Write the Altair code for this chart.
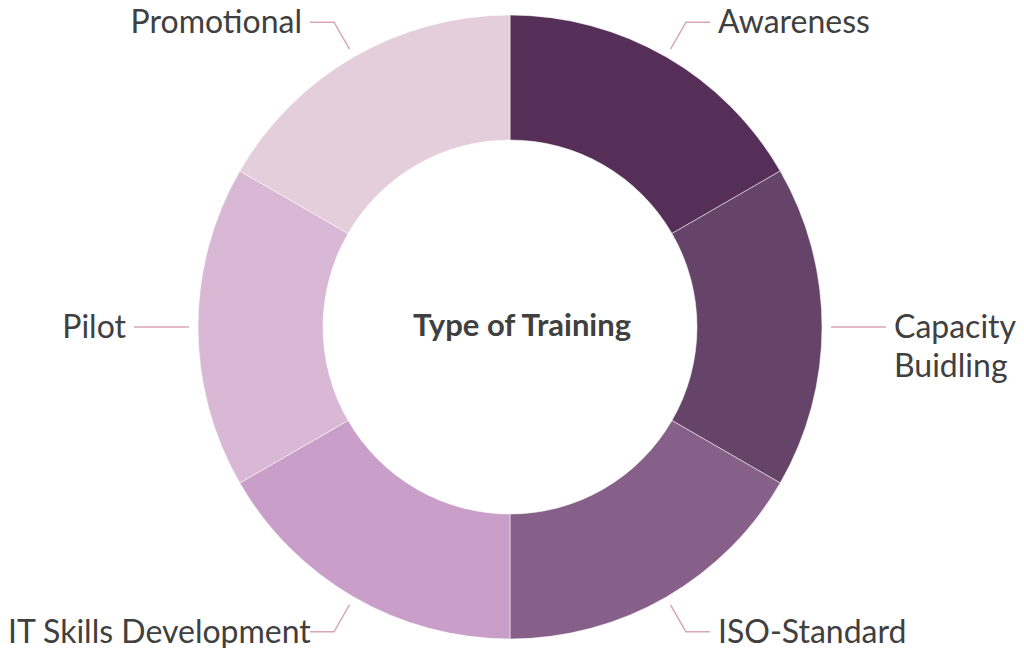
import math
import altair as alt
import pandas as pd

categories = ["Awareness", "Capacity\nBuidling", "ISO-Standard", "IT Skills Development", "Pilot", "Promotional"]
values = [1, 1, 1, 1, 1, 1]
colors = ["#552F58", "#664469", "#866089", "#C99FC9", "#D8B8D5", "#E5CEDC"]
center_title = "Type of Training"

W, H = 1008, 634
FS = 32
R_OUT, R_IN = 312, 187
R1, R2, HORIZ, GAP = 321, 352, 24, 8
X_MIN, X_MAX, Y_MIN, Y_MAX = -502, 506, -315, 319

total = sum(values)
slices = pd.DataFrame({"cat": categories, "val": values, "idx": list(range(len(categories))),
                       "cx": [0.0] * len(categories), "cy": [0.0] * len(categories)})

# leader line points and label anchors derived from the values
cum = 0.0
line_rows, label_rows = [], []
for i, (c, v) in enumerate(zip(categories, values)):
    mid = (cum + v / 2) / total * 2 * math.pi
    cum += v
    s, co = math.sin(mid), math.cos(mid)
    side = 1 if s >= 0 else -1
    p0 = (R1 * s, R1 * co)
    p1 = (R2 * s, R2 * co)
    p2 = (R2 * s + side * HORIZ, R2 * co)
    for k, (px, py) in enumerate([p0, p1, p2]):
        line_rows.append({"cat": c, "k": k, "x": px, "y": py})
    lx = p2[0] + side * GAP
    align = "left" if side > 0 else "right"
    est_w = 0.45 * FS * max(len(t) for t in c.split("\n"))
    if side < 0 and lx - est_w < X_MIN:
        lx, align = X_MIN, "left"  # keep long label inside the canvas
    label_rows.append({"cat": c, "x": lx, "y": p2[1], "side": align})
lines = pd.DataFrame(line_rows)
labels = pd.DataFrame(label_rows)

xs = alt.Scale(domain=[X_MIN, X_MAX], nice=False, zero=False)
ys = alt.Scale(domain=[Y_MIN, Y_MAX], nice=False, zero=False)

arcs = alt.Chart(slices).mark_arc(outerRadius=R_OUT, innerRadius=R_IN, stroke="white", strokeWidth=0.5).encode(
    x=alt.X("cx:Q", scale=xs, axis=None),
    y=alt.Y("cy:Q", scale=ys, axis=None),
    theta=alt.Theta("val:Q", stack=True),
    order=alt.Order("idx:Q"),
    color=alt.Color("cat:N", scale=alt.Scale(domain=categories, range=colors), legend=None),
)

leaders = alt.Chart(lines).mark_line(color="#D8A7B5", strokeWidth=1.5).encode(
    x=alt.X("x:Q", scale=xs, axis=None),
    y=alt.Y("y:Q", scale=ys, axis=None),
    detail="cat:N",
    order="k:Q",
)

lab_base = alt.Chart(labels).encode(
    x=alt.X("x:Q", scale=xs, axis=None),
    y=alt.Y("y:Q", scale=ys, axis=None),
    text="cat:N",
)
lab_left = lab_base.transform_filter(alt.datum.side == "left").mark_text(
    align="left", baseline="alphabetic", dy=11, font="Lato", fontSize=FS, color="#404040", lineBreak="\n", lineHeight=39
)
lab_right = lab_base.transform_filter(alt.datum.side == "right").mark_text(
    align="right", baseline="alphabetic", dy=11, font="Lato", fontSize=FS, color="#404040", lineBreak="\n", lineHeight=39
)

title = alt.Chart(pd.DataFrame({"t": [center_title], "x": [0.0], "y": [0.0]})).mark_text(
    font="Lato", fontSize=31, fontWeight="bold", color="#404040", align="center", baseline="middle", dx=12
).encode(
    x=alt.X("x:Q", scale=xs, axis=None),
    y=alt.Y("y:Q", scale=ys, axis=None),
    text="t:N",
)

chart = alt.layer(arcs, leaders, lab_left, lab_right, title).properties(
    width=W, height=H,
    autosize=alt.AutoSizeParams(type="none"),
    padding={"left": 0, "top": 0, "right": 0, "bottom": 6},
).configure_view(stroke=None)

chart.save("out.html", embed_options={"renderer": "svg", "actions": False})
